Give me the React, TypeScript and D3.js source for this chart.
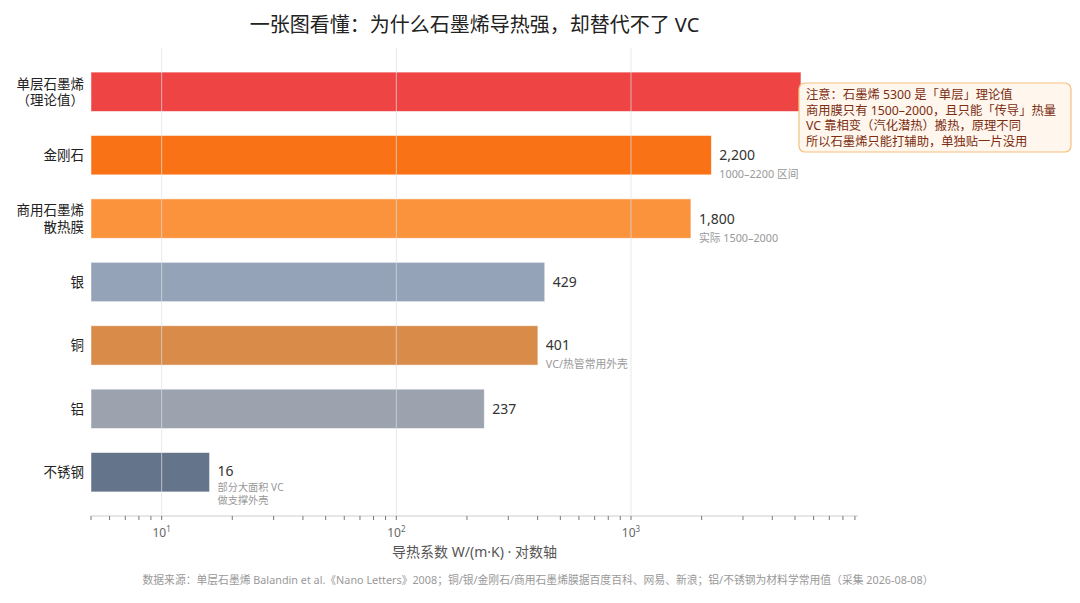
import { useEffect, useRef } from "react";
import * as d3 from "d3";

// 材料 / 导热系数 W/(m·K)
const materials = ["单层石墨烯\n（理论值）", "金刚石", "商用石墨烯\n散热膜", "银", "铜", "铝", "不锈钢"];
const conductivity = [5300, 2200, 1800, 429, 401, 237, 16];
const barColors = ["#EF4444", "#F97316", "#FB923C", "#94A3B8", "#D98B4A", "#9CA3AF", "#64748B"];
const valueLabels = ["", "2,200", "1,800", "429", "401", "237", "16"];
const subLabels = ["", "1000–2200 区间", "实际 1500–2000", "", "VC/热管常用外壳", "", "部分大面积 VC\n做支撑外壳"];
const majorTicks = [10, 100, 1000];
const noteLines = [
  "注意：石墨烯 5300 是「单层」理论值",
  "商用膜只有 1500–2000，且只能「传导」热量",
  "VC 靠相变（汽化潜热）搬热，原理不同",
  "所以石墨烯只能打辅助，单独贴一片没用",
];

const W = 1080;
const H = 603;
const FONT = "'Noto Sans', 'Noto Sans CJK SC', sans-serif";
const PLOT = { left: 91, right: 858, top: 48, bottom: 516 };

export default function App() {
  const svgRef = useRef<SVGSVGElement>(null);

  useEffect(() => {
    if (!svgRef.current) return;
    const svg = d3.select(svgRef.current);
    svg.selectAll("*").remove();

    const x = d3
      .scaleLog()
      .domain([5, d3.max(conductivity)! * 1.75])
      .range([PLOT.left, PLOT.right]);

    const y = d3
      .scaleBand<string>()
      .domain(materials)
      .range([PLOT.top, PLOT.bottom])
      .padding(0.38);

    // Title
    svg
      .append("text")
      .attr("x", (PLOT.left + PLOT.right) / 2)
      .attr("y", 32)
      .attr("text-anchor", "middle")
      .attr("font-size", 20)
      .attr("fill", "#222")
      .text("一张图看懂：为什么石墨烯导热强，却替代不了 VC");

    // Bars
    svg
      .append("g")
      .selectAll("rect")
      .data(materials)
      .join("rect")
      .attr("x", PLOT.left)
      .attr("y", (d) => y(d)!)
      .attr("width", (_, i) => x(conductivity[i]) - PLOT.left)
      .attr("height", y.bandwidth())
      .attr("fill", (_, i) => barColors[i])
      .attr("stroke", "rgba(255,255,255,0.6)")
      .attr("stroke-width", 0.8);

    // Grid lines (over bars)
    svg
      .append("g")
      .selectAll("line")
      .data(majorTicks)
      .join("line")
      .attr("x1", (d) => x(d))
      .attr("x2", (d) => x(d))
      .attr("y1", PLOT.top)
      .attr("y2", PLOT.bottom)
      .attr("stroke", "rgba(220,222,228,0.7)")
      .attr("stroke-width", 1);

    // Category labels
    const cat = svg
      .append("g")
      .selectAll("text")
      .data(materials)
      .join("text")
      .attr("text-anchor", "end")
      .attr("font-size", 13.5)
      .attr("fill", "#222");
    cat.each(function (d) {
      const lines = d.split("\n");
      const cy = y(d)! + y.bandwidth() / 2;
      const t = d3.select(this);
      lines.forEach((ln, k) => {
        t.append("tspan")
          .attr("x", 84)
          .attr("y", cy + 5 + (k - (lines.length - 1) / 2) * 16.5)
          .text(ln);
      });
    });

    // Value labels
    materials.forEach((m, i) => {
      if (!valueLabels[i]) return;
      const cx = x(conductivity[i]) + 8;
      const cy = y(m)! + y.bandwidth() / 2;
      const twoLine = subLabels[i].includes("\n");
      svg
        .append("text")
        .attr("x", cx)
        .attr("y", cy + (twoLine ? 4 : 5))
        .attr("font-size", 14)
        .attr("fill", "#333")
        .text(valueLabels[i]);
      if (subLabels[i]) {
        subLabels[i].split("\n").forEach((ln, k) => {
          svg
            .append("text")
            .attr("x", cx)
            .attr("y", cy + (twoLine ? 19 : 23) + k * 12.5)
            .attr("font-size", twoLine ? 10.2 : 10.8)
            .attr("fill", "#999")
            .text(ln);
        });
      }
    });

    // Axis
    const axisG = svg.append("g").attr("transform", `translate(0,${PLOT.bottom})`);
    axisG
      .append("line")
      .attr("x1", PLOT.left)
      .attr("x2", PLOT.right)
      .attr("stroke", "#ccc");
    const allTicks = x.ticks().filter((t) => t >= 5 && t <= x.domain()[1]);
    axisG
      .selectAll("line.tick")
      .data(allTicks)
      .join("line")
      .attr("class", "tick")
      .attr("x1", (d) => x(d))
      .attr("x2", (d) => x(d))
      .attr("y1", 0)
      .attr("y2", 4)
      .attr("stroke", "#777");
    const tl = axisG
      .selectAll("text")
      .data(majorTicks)
      .join("text")
      .attr("x", (d) => x(d))
      .attr("y", 21)
      .attr("text-anchor", "middle")
      .attr("font-size", 12)
      .attr("fill", "#666");
    tl.append("tspan").text("10");
    tl.append("tspan")
      .attr("dy", -5)
      .attr("font-size", 8)
      .text((d) => String(Math.round(Math.log10(d))));

    svg
      .append("text")
      .attr("x", (PLOT.left + PLOT.right) / 2)
      .attr("y", 557)
      .attr("text-anchor", "middle")
      .attr("font-size", 14)
      .attr("fill", "#555")
      .text("导热系数 W/(m·K)  ·  对数轴");

    // Note box
    const nx = x(conductivity[0]) - 2;
    const note = svg.append("g").attr("transform", `translate(${nx},83)`);
    note
      .append("rect")
      .attr("width", 272)
      .attr("height", 69)
      .attr("rx", 6)
      .attr("fill", "#FFF7ED")
      .attr("stroke", "#F5C07E")
      .attr("stroke-width", 1.2);
    noteLines.forEach((ln, k) => {
      note
        .append("text")
        .attr("x", 7)
        .attr("y", 16 + k * 15.5)
        .attr("font-size", 12.3)
        .attr("fill", "#7C2D12")
        .text(ln);
    });

    // Footer
    svg
      .append("text")
      .attr("x", 538)
      .attr("y", 584)
      .attr("text-anchor", "middle")
      .attr("font-size", 10.8)
      .attr("fill", "#999")
      .text(
        "数据来源：单层石墨烯 Balandin et al.《Nano Letters》2008；铜/银/金刚石/商用石墨烯膜据百度百科、网易、新浪；铝/不锈钢为材料学常用值（采集 2026-08-08）"
      );
  }, []);

  return (
    <svg
      ref={svgRef}
      width={W}
      height={H}
      style={{ position: "absolute", left: 0, top: 0, background: "#fff", fontFamily: FONT }}
    />
  );
}
